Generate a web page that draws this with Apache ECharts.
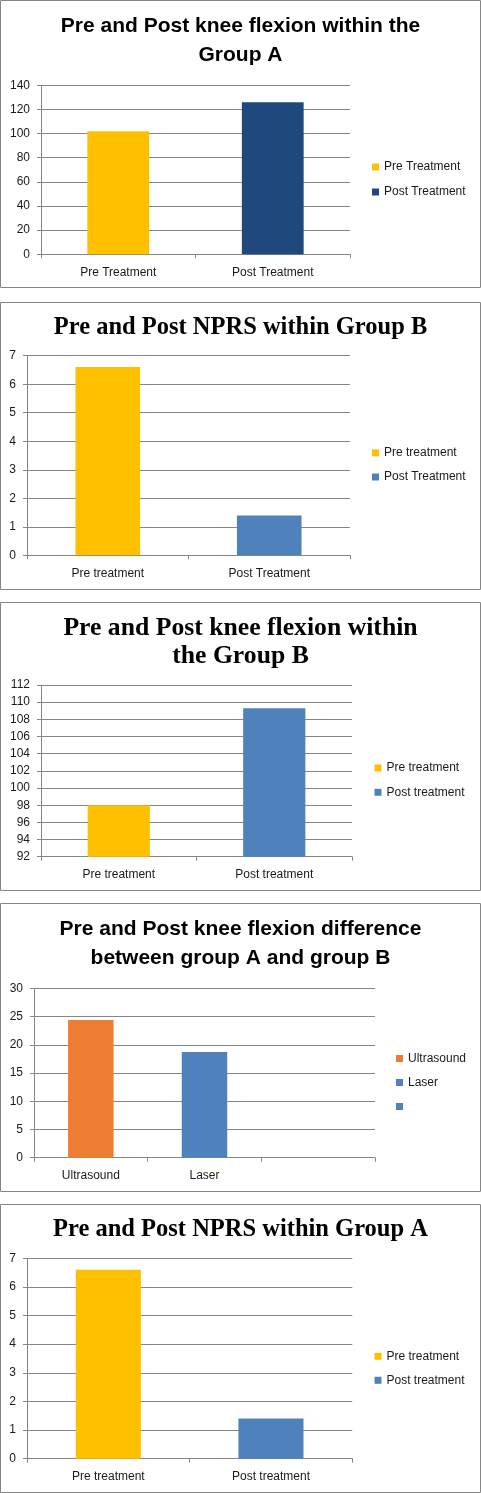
<!DOCTYPE html>
<html>
<head>
<meta charset="utf-8">
<script src="https://cdn.jsdelivr.net/npm/echarts@6/dist/echarts.min.js"></script>
<style>
  html, body { margin: 0; padding: 0; background: #fff; }
  body { width: 481px; height: 1493px; position: relative; overflow: hidden; }
  .panel { position: absolute; left: 0; width: 481px; }
</style>
</head>
<body>
<div id="p1" class="panel" style="top:0px;height:288px"></div>
<div id="p2" class="panel" style="top:302px;height:288px"></div>
<div id="p3" class="panel" style="top:602px;height:289px"></div>
<div id="p4" class="panel" style="top:903px;height:289px"></div>
<div id="p5" class="panel" style="top:1204px;height:289px"></div>
<script>
// ---------- DATA ----------
const p1Title = 'Pre and Post knee flexion within the\nGroup A';
const p1Categories = ['Pre Treatment', 'Post Treatment'];
const p1Legend = ['Pre Treatment', 'Post Treatment'];
const p1Values = [102, 126];
const p1Ticks = [0, 140, 20];

const p2Title = 'Pre and Post NPRS within Group B';
const p2Categories = ['Pre treatment', 'Post Treatment'];
const p2Legend = ['Pre treatment', 'Post Treatment'];
const p2Values = [6.6, 1.4];
const p2Ticks = [0, 7, 1];

const p3Title = 'Pre and Post knee flexion within\nthe Group B';
const p3Categories = ['Pre treatment', 'Post treatment'];
const p3Legend = ['Pre treatment', 'Post treatment'];
const p3Values = [98, 109.3];
const p3Ticks = [92, 112, 2];

const p4Title = 'Pre and Post knee flexion difference\nbetween group A and group B';
const p4Categories = ['Ultrasound', 'Laser', ''];
const p4Legend = ['Ultrasound', 'Laser', ' '];
const p4Values = [24.4, 18.7, null];
const p4Ticks = [0, 30, 5];

const p5Title = 'Pre and Post NPRS within Group A';
const p5Categories = ['Pre treatment', 'Post treatment'];
const p5Legend = ['Pre treatment', 'Post treatment'];
const p5Values = [6.6, 1.4];
const p5Ticks = [0, 7, 1];

// ---------- STYLE ----------
const YELLOW = '#FFC000', NAVY = '#1F497D', BLUE = '#4F81BD', ORANGE = '#ED7D31';
const GRID_C = '#868686';
const TXT = '#1a1a1a';
const SANS = 'Liberation Sans';
const SERIF = 'Liberation Serif';

function build(id, cfg) {
  const el = document.getElementById(id);
  const W = el.clientWidth, H = el.clientHeight;
  const chart = echarts.init(el, null, { renderer: 'canvas' });
  const series = cfg.legend.map((name, i) => ({
    name: name,
    type: 'bar',
    stack: 'one',
    barWidth: '40%',
    itemStyle: { color: cfg.colors[i] },
    emphasis: { disabled: true },
    data: cfg.categories.map((_, j) => (j === i ? cfg.values[i] : null))
  }));
  chart.setOption({
    animation: false,
    title: {
      text: cfg.title,
      left: 'center',
      top: cfg.titleTop,
      padding: 0,
      textStyle: {
        fontFamily: cfg.titleFont,
        fontWeight: 'bold',
        fontSize: cfg.titleSize,
        lineHeight: cfg.titleLH,
        color: '#000'
      }
    },
    legend: {
      orient: 'vertical',
      left: cfg.legendLeft,
      top: cfg.legendTop,
      padding: 0,
      itemWidth: 7,
      itemHeight: 7,
      itemGap: cfg.legendGap,
      icon: 'rect',
      selectedMode: false,
      data: cfg.legend,
      textStyle: { fontFamily: SANS, fontSize: 12, color: TXT, lineHeight: 14 }
    },
    grid: {
      left: cfg.grid[0], right: cfg.grid[1], top: cfg.grid[2], bottom: cfg.grid[3],
      containLabel: false
    },
    xAxis: {
      type: 'category',
      data: cfg.categories,
      boundaryGap: true,
      axisLine: { show: true, lineStyle: { color: GRID_C, width: 1 } },
      axisTick: { show: true, length: 4, lineStyle: { color: GRID_C } },
      axisLabel: { fontFamily: SANS, fontSize: 12, color: TXT, margin: 12, interval: 0 },
      splitLine: { show: false }
    },
    yAxis: {
      type: 'value',
      min: cfg.ticks[0], max: cfg.ticks[1], interval: cfg.ticks[2],
      axisLine: { show: true, lineStyle: { color: GRID_C, width: 1 } },
      axisTick: { show: true, length: 4, lineStyle: { color: GRID_C } },
      axisLabel: { fontFamily: SANS, fontSize: 12, color: TXT, margin: 11 },
      splitLine: { show: true, lineStyle: { color: GRID_C, width: 1 } }
    },
    graphic: [{
      type: 'rect', silent: true, z: 100,
      shape: { x: 0.5, y: 0.5, width: W - 1, height: H - 1 },
      style: { fill: null, stroke: GRID_C, lineWidth: 1 }
    }],
    series: series
  });
}

build('p1', {
  title: p1Title, titleFont: SANS, titleSize: 21, titleLH: 29, titleTop: 12,
  categories: p1Categories, legend: p1Legend, values: p1Values, ticks: p1Ticks,
  colors: [YELLOW, NAVY],
  grid: [41, 131, 85.3, 33.7],
  legendLeft: 372, legendTop: 160, legendGap: 11
});
build('p2', {
  title: p2Title, titleFont: SERIF, titleSize: 24.5, titleLH: 30, titleTop: 10.5,
  categories: p2Categories, legend: p2Legend, values: p2Values, ticks: p2Ticks,
  colors: [YELLOW, BLUE],
  grid: [27, 131, 53.7, 34.7],
  legendLeft: 372, legendTop: 143.8, legendGap: 10.2
});
build('p3', {
  title: p3Title, titleFont: SERIF, titleSize: 25.7, titleLH: 28.3, titleTop: 12,
  categories: p3Categories, legend: p3Legend, values: p3Values, ticks: p3Ticks,
  colors: [YELLOW, BLUE],
  grid: [41, 129, 83, 34.3],
  legendLeft: 374.5, legendTop: 159, legendGap: 10.3
});
build('p4', {
  title: p4Title, titleFont: SANS, titleSize: 21, titleLH: 29, titleTop: 11.5,
  categories: p4Categories, legend: p4Legend, values: p4Values, ticks: p4Ticks,
  colors: [ORANGE, BLUE, BLUE],
  grid: [34, 106, 85.3, 34.3],
  legendLeft: 396, legendTop: 148.5, legendGap: 10
});
build('p5', {
  title: p5Title, titleFont: SERIF, titleSize: 24.5, titleLH: 30, titleTop: 11,
  categories: p5Categories, legend: p5Legend, values: p5Values, ticks: p5Ticks,
  colors: [YELLOW, BLUE],
  grid: [27, 128.7, 54.3, 34.3],
  legendLeft: 374.5, legendTop: 145.3, legendGap: 10
});
</script>
</body>
</html>
